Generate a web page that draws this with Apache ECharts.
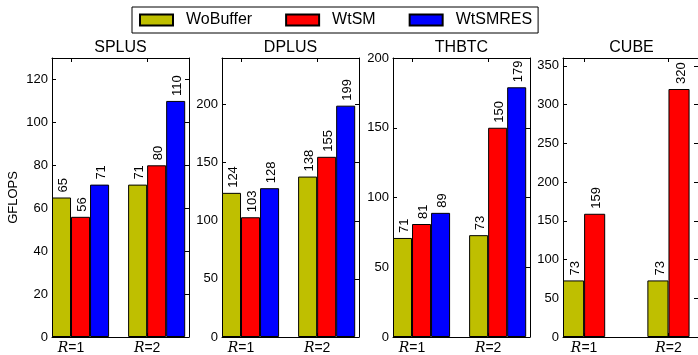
<!DOCTYPE html>
<html><head><meta charset="utf-8">
<script src="https://cdn.jsdelivr.net/npm/echarts@6/dist/echarts.min.js"></script>
<style>html,body{margin:0;padding:0;background:#fff}#c{width:698px;height:355px}</style>
</head><body><div id="c"></div>
<script>
// ---- data ----
const panelTitles = ['SPLUS', 'DPLUS', 'THBTC', 'CUBE'];
const seriesNames = ['WoBuffer', 'WtSM', 'WtSMRES'];
const groupLabels = ['1', '2'];            // R=1, R=2
const groupTickPos = [0.25, 1.25];         // x-axis tick positions (data units)

const splusWoBuffer = [65, 71];
const splusWtSM     = [56, 80];
const splusWtSMRES  = [71, 110];

const dplusWoBuffer = [124, 138];
const dplusWtSM     = [103, 155];
const dplusWtSMRES  = [128, 199];

const thbtcWoBuffer = [71, 73];
const thbtcWtSM     = [81, 150];
const thbtcWtSMRES  = [89, 179];

const cubeWoBuffer = [73, 73];
const cubeWtSM     = [159, 320];

const yMaxes = [130, 240, 200, 360];
const yTicksSplus = [0, 20, 40, 60, 80, 100, 120];
const yTicksDplus = [0, 50, 100, 150, 200];
const yTicksThbtc = [0, 50, 100, 150, 200];
const yTicksCube  = [0, 50, 100, 150, 200, 250, 300, 350];
const xMaxes = [1.8, 1.8, 1.8, 1.6];

// ---- build ----
const panelData = [
  [splusWoBuffer, splusWtSM, splusWtSMRES],
  [dplusWoBuffer, dplusWtSM, dplusWtSMRES],
  [thbtcWoBuffer, thbtcWtSM, thbtcWtSMRES],
  [cubeWoBuffer, cubeWtSM]
];
const yTicks = [yTicksSplus, yTicksDplus, yTicksThbtc, yTicksCube];
const colors = ['#bfbf00', '#ff0000', '#0000ff'];
const FONT = 'Liberation Sans';
const gridLefts = [52, 222, 393, 563];
const GW = 137, GT = 58, GH = 281;

const grid = [], xAxis = [], yAxis = [], series = [], title = [];
panelTitles.forEach((t, p) => {
  grid.push({left: gridLefts[p], top: GT, width: GW, height: GH, show: false});
  title.push({text: t, left: gridLefts[p] + GW / 2, top: 40, textAlign: 'center', padding: 0,
    textStyle: {fontFamily: FONT, fontSize: 16, fontWeight: 'normal', color: '#000'}});
  const axLine = {show: true, onZero: false, lineStyle: {color: '#000', width: 1}};
  const tick = {show: true, inside: true, length: 4, lineStyle: {color: '#000', width: 1}};
  xAxis.push({type: 'value', gridIndex: p, min: 0, max: xMaxes[p], position: 'bottom',
    axisLine: axLine, splitLine: {show: false},
    axisTick: Object.assign({}, tick, {customValues: groupTickPos}),
    axisLabel: {customValues: groupTickPos, margin: 4, color: '#000', fontFamily: FONT, fontSize: 14,
      formatter: v => '{i|R}=' + groupLabels[groupTickPos.indexOf(v)],
      rich: {i: {fontFamily: 'DejaVu Serif', fontStyle: 'italic', fontSize: 14, color: '#000'}}}});
  xAxis.push({type: 'value', gridIndex: p, min: 0, max: xMaxes[p], position: 'top',
    axisLine: axLine, splitLine: {show: false},
    axisTick: Object.assign({}, tick, {customValues: groupTickPos}),
    axisLabel: {show: false}});
  const yl = {type: 'value', gridIndex: p, min: 0, max: yMaxes[p], position: 'left',
    axisLine: axLine, splitLine: {show: false},
    axisTick: Object.assign({}, tick, {customValues: yTicks[p]}),
    axisLabel: {customValues: yTicks[p], margin: 4, color: '#000', fontFamily: FONT, fontSize: 13}};
  if (p === 0) {
    Object.assign(yl, {name: 'GFLOPS', nameLocation: 'middle', nameGap: 32,
      nameTextStyle: {fontFamily: FONT, fontSize: 13, color: '#000'}});
  }
  yAxis.push(yl);
  yAxis.push({type: 'value', gridIndex: p, min: 0, max: yMaxes[p], position: 'right',
    axisLine: axLine, splitLine: {show: false},
    axisTick: Object.assign({}, tick, {customValues: yTicks[p]}),
    axisLabel: {show: false}});
  const n = panelData[p].length;
  panelData[p].forEach((vals, i) => {
    series.push({
      type: 'bar', name: seriesNames[i], xAxisIndex: 2 * p, yAxisIndex: 2 * p,
      barWidth: '25%', barGap: '0%',
      itemStyle: {color: colors[i], borderColor: '#000', borderWidth: 1},
      label: {show: true, position: 'top', rotate: 90, align: 'left', verticalAlign: 'middle',
        distance: 5, offset: [0, 2], fontFamily: FONT, fontSize: 13, color: '#000',
        formatter: q => String(q.value[1])},
      data: vals.map((v, g) => [g + n * 0.125, v])
    });
  });
});

const chart = echarts.init(document.getElementById('c'), null, {renderer: 'canvas'});
chart.setOption({
  animation: false,
  backgroundColor: '#fff',
  title, grid, xAxis, yAxis, series,
  legend: {data: seriesNames.map(s => ({name: s, icon: 'rect'})), left: 132, top: 7,
    itemWidth: 33, itemHeight: 11, itemGap: 33,
    borderColor: '#000', borderWidth: 1, borderRadius: 0, padding: [5, 6, 5, 7],
    textStyle: {fontFamily: FONT, fontSize: 16, color: '#000', padding: [0, 0, 0, 8]}}
});
</script></body></html>
